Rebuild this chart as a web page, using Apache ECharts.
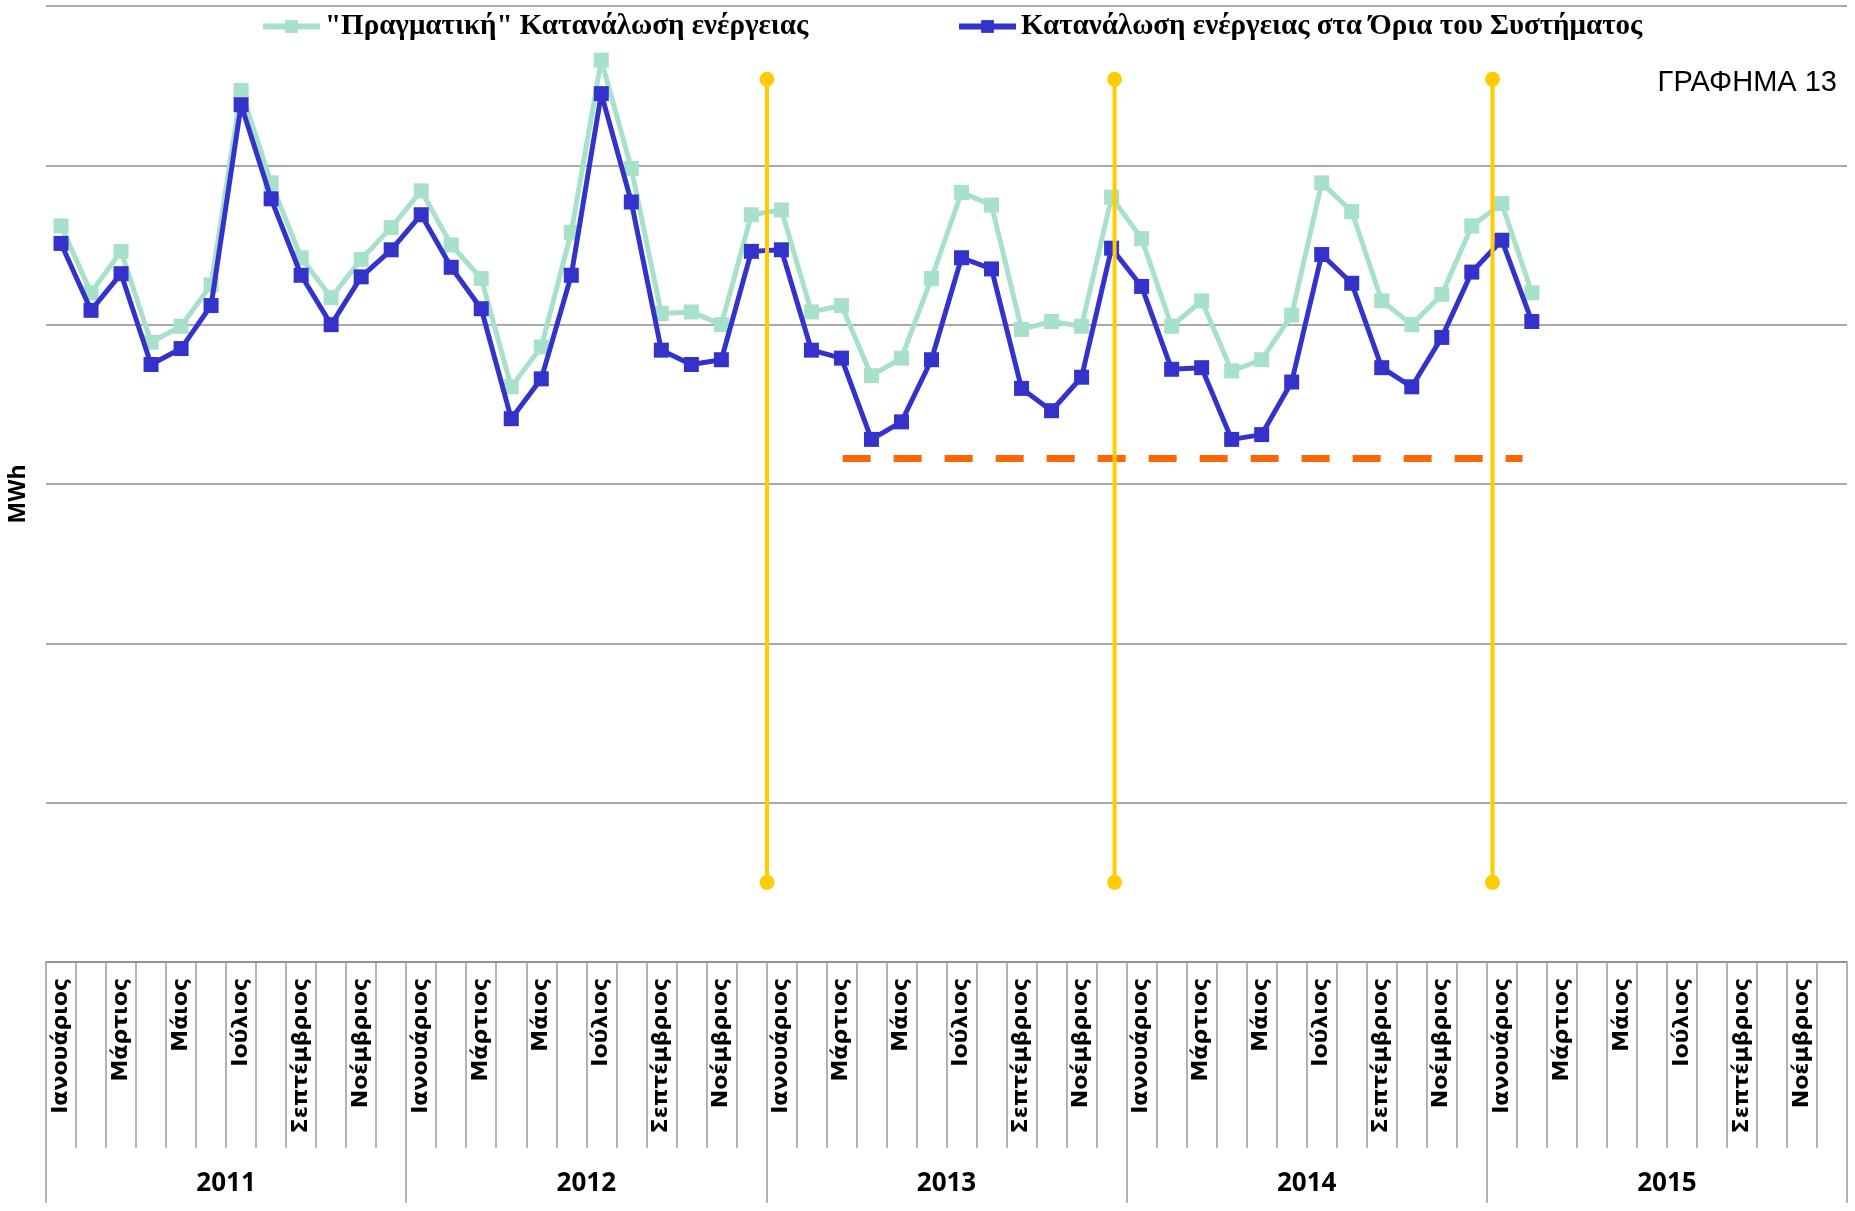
<!DOCTYPE html>
<html>
<head>
<meta charset="utf-8">
<script src="https://cdn.jsdelivr.net/npm/echarts@6/dist/echarts.min.js"></script>
<style>
  html, body { margin: 0; padding: 0; background: #fff; }
  #chart { width: 1855px; height: 1211px; }
</style>
</head>
<body>
<div id="chart"></div>
<script>
// years and month names for the two-level x axis
const years = ['2011', '2012', '2013', '2014', '2015'];
const monthNames = ['Ιανουάριος', 'Φεβρουάριος', 'Μάρτιος', 'Απρίλιος', 'Μάιος', 'Ιούνιος',
    'Ιούλιος', 'Αύγουστος', 'Σεπτέμβριος', 'Οκτώβριος', 'Νοέμβριος', 'Δεκέμβριος'];

// values (axis has no labels, grid step = 1)
const realConsumption = [
    4.62, 4.20, 4.46, 3.89, 3.99, 4.25, 5.47, 4.89, 4.42, 4.17,
    4.41, 4.61, 4.84, 4.50, 4.29, 3.61, 3.86, 4.58, 5.66, 4.98,
    4.07, 4.08, 4.00, 4.69, 4.72, 4.08, 4.12, 3.68, 3.79, 4.29,
    4.83, 4.75, 3.97, 4.02, 3.99, 4.80, 4.54, 3.99, 4.15, 3.71,
    3.78, 4.06, 4.89, 4.71, 4.15, 4.00, 4.19, 4.62, 4.76, 4.20
];
const systemConsumption = [
    4.51, 4.09, 4.32, 3.75, 3.85, 4.12, 5.38, 4.79, 4.31, 4.00,
    4.30, 4.47, 4.69, 4.36, 4.10, 3.41, 3.66, 4.31, 5.45, 4.77,
    3.84, 3.75, 3.78, 4.46, 4.47, 3.84, 3.79, 3.28, 3.39, 3.78,
    4.42, 4.35, 3.60, 3.46, 3.67, 4.48, 4.24, 3.72, 3.73, 3.28,
    3.31, 3.64, 4.44, 4.26, 3.73, 3.61, 3.92, 4.33, 4.53, 4.02
];

// yellow markers (position in months from Jan 2011) and their vertical span
const markerMonths = [24.02, 35.60, 48.19];
const markerRange = [0.50, 5.54];
// orange dashed level and its span in months
const thresholdLevel = 3.16;
const thresholdSpan = [26.54, 49.19];

const realName = '"Πραγματική" Κατανάλωση ενέργειας';
const systemName = 'Κατανάλωση ενέργειας στα Όρια του Συστήματος';

const months = [];
years.forEach(() => monthNames.forEach(m => months.push(m)));

const chart = echarts.init(document.getElementById('chart'), null, { renderer: 'canvas' });

const markerSeries = markerMonths.map(m => ({
    type: 'line',
    xAxisIndex: 2,
    data: [[m, markerRange[0]], [m, markerRange[1]]],
    symbol: 'circle',
    symbolSize: 15,
    showSymbol: true,
    itemStyle: { color: '#FFCC00' },
    lineStyle: { color: '#FFCC00', width: 4 },
    z: 5,
    silent: true
}));

const legendText = { fontFamily: 'Liberation Serif', fontWeight: 'bold', fontSize: 29, color: '#000' };

const option = {
    backgroundColor: '#ffffff',
    animation: false,
    title: {
        text: 'ΓΡΑΦΗΜΑ 13',
        right: 13,
        top: 63,
        textStyle: { fontFamily: 'Liberation Sans', fontWeight: 'normal', fontSize: 29, color: '#000' }
    },
    legend: [
        {
            data: [realName],
            left: 260, top: 12, padding: 0,
            itemWidth: 57, itemHeight: 16,
            lineStyle: { width: 6 },
            textStyle: legendText
        },
        {
            data: [systemName],
            left: 956, top: 12, padding: 0,
            itemWidth: 57, itemHeight: 16,
            lineStyle: { width: 6 },
            textStyle: legendText
        }
    ],
    grid: { left: 46, right: 8, top: 6, bottom: 249, outerBoundsMode: 'none' },
    xAxis: [
        {
            type: 'category',
            position: 'bottom',
            data: months,
            boundaryGap: true,
            axisLine: { show: true, lineStyle: { color: '#8c8c8c', width: 1.5 } },
            axisTick: { show: true, interval: 0, length: 186, lineStyle: { color: '#9a9a9a', width: 1.5 } },
            axisLabel: {
                interval: 1, rotate: 90, margin: 16,
                fontFamily: 'DejaVu Sans', fontWeight: 'bold', fontSize: 22, color: '#000'
            }
        },
        {
            type: 'category',
            position: 'bottom',
            data: years,
            boundaryGap: true,
            axisLine: { show: false },
            axisTick: { show: true, interval: 0, length: 241, lineStyle: { color: '#9a9a9a', width: 1.5 } },
            axisLabel: {
                interval: 0, margin: 209,
                fontFamily: 'Open Sans', fontWeight: 'bold', fontSize: 26, color: '#000'
            }
        },
        { type: 'value', position: 'bottom', min: 0, max: 60, show: false }
    ],
    yAxis: {
        type: 'value',
        min: 0, max: 6, interval: 1,
        name: 'MWh',
        nameLocation: 'middle',
        nameGap: 16,
        nameTextStyle: {
            fontFamily: 'Open Sans', fontWeight: 'bold', fontSize: 23, color: '#000',
            padding: [0, 20, 0, 0]
        },
        axisLabel: { show: false },
        axisTick: { show: false },
        axisLine: { show: false },
        splitLine: { lineStyle: { color: '#8c8c8c', width: 1.5 } }
    },
    series: [
        {
            name: realName,
            type: 'line',
            data: realConsumption,
            symbol: 'rect',
            symbolSize: 15,
            itemStyle: { color: '#A8E1CA' },
            lineStyle: { color: '#A8E1CA', width: 5 },
            z: 2
        },
        {
            name: systemName,
            type: 'line',
            data: systemConsumption,
            symbol: 'rect',
            symbolSize: 15,
            itemStyle: { color: '#3333CC' },
            lineStyle: { color: '#3333CC', width: 5 },
            z: 3
        },
        {
            type: 'line',
            xAxisIndex: 2,
            data: [[thresholdSpan[0], thresholdLevel], [thresholdSpan[1], thresholdLevel]],
            symbol: 'none',
            lineStyle: { color: '#FF6600', width: 7, type: [28, 23], cap: 'butt' },
            z: 4,
            silent: true
        }
    ].concat(markerSeries)
};

chart.setOption(option);
</script>
</body>
</html>
